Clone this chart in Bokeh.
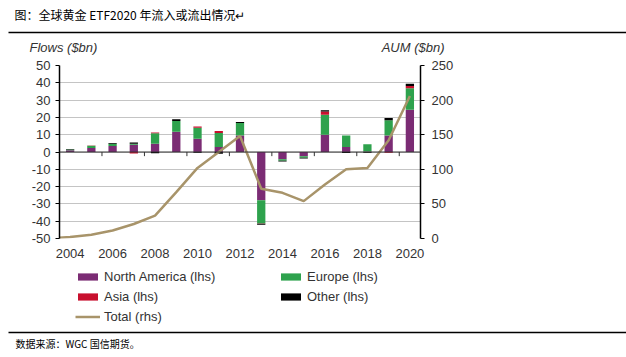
from bokeh.plotting import figure
from bokeh.models import (Range1d, LinearAxis, FixedTicker, Legend, LegendItem,
                          Label, Span, BoxAnnotation)
from bokeh.embed import file_html
from bokeh.resources import INLINE

# ---------------- data ----------------
years = [2004, 2005, 2006, 2007, 2008, 2009, 2010, 2011, 2012,
         2013, 2014, 2015, 2016, 2017, 2018, 2019, 2020]
north_america = [1.0, 2.3, 3.5, 4.2, 4.8, 11.7, 7.7, 2.9, 9.6,
                 -27.9, -4.2, -2.4, 10.0, 2.9, 0.3, 9.6, 24.4]
europe = [0.5, 1.3, 1.3, 0.6, 6.0, 6.2, 6.3, 8.1, 7.1,
          -13.4, -0.8, -0.9, 11.5, 6.7, 4.2, 8.8, 12.5]
asia = [0.0, 0.2, 0.0, -0.8, 0.5, 0.0, 0.8, 1.1, 0.0,
        -0.2, 0.0, 0.0, 1.9, 0.0, 0.0, -0.5, 1.3]
other = [0.2, 0.0, 0.4, 0.7, -0.7, 1.0, -0.5, -1.0, 0.6,
         -0.6, -0.5, -0.5, 0.7, -0.6, -0.5, 1.2, 1.3]

aum_years = [2003, 2004, 2005, 2006, 2007, 2008, 2009, 2010, 2011, 2012,
             2013, 2014, 2015, 2016, 2017, 2018, 2019, 2020]
total_aum = [0.0, 2.0, 5.5, 11.5, 21.0, 33.0, 67.0, 102.0, 125.0, 148.0,
             72.0, 66.0, 54.0, 78.0, 100.0, 102.0, 142.0, 206.0]

left_ticks = [-50, -40, -30, -20, -10, 0, 10, 20, 30, 40, 50]
right_ticks = [0, 50, 100, 150, 200, 250]
year_ticks = [2004, 2006, 2008, 2010, 2012, 2014, 2016, 2018, 2020]

series_names = ["North America (lhs)", "Europe (lhs)", "Asia (lhs)", "Other (lhs)"]
series_values = [north_america, europe, asia, other]
series_colors = ["#7B2C74", "#2EA24D", "#C8102E", "#000000"]
total_name = "Total (rhs)"
total_color = "#A8946A"

title_text = "图：全球黄金 ETF2020 年流入或流出情况↵"
left_title = "Flows ($bn)"
right_title = "AUM ($bn)"
source_text = "数据来源：WGC 国信期货。"

FONT = "Liberation Sans"
CJK = "Noto Sans CJK SC"
TXT = "#333333"
W = 626


def blank_fig(h):
    f = figure(width=W, height=h, output_backend="svg", toolbar_location=None,
               x_range=Range1d(0, W), y_range=Range1d(h, 0),
               x_axis_type=None, y_axis_type=None,
               min_border_left=0, min_border_right=0,
               min_border_top=0, min_border_bottom=0)
    f.outline_line_color = None
    f.grid.visible = False
    return f


def rule(f, y):
    f.add_layout(BoxAnnotation(left=8, right=W, top=y - 0.7, bottom=y + 0.7,
                               fill_color="black", fill_alpha=1, line_color=None))


# ---------------- top strip: title + axis titles ----------------
top = blank_fig(56)
top.add_layout(Label(x=14, y=14, text=title_text, text_font=CJK,
                     text_font_size="12px", text_color="black",
                     text_baseline="middle"))
rule(top, 32)
top.add_layout(Label(x=29, y=47, text=left_title, text_font=FONT,
                     text_font_size="13px", text_font_style="italic",
                     text_color=TXT, text_baseline="middle"))
top.add_layout(Label(x=444, y=47, text=right_title, text_font=FONT,
                     text_font_size="13px", text_font_style="italic",
                     text_color=TXT, text_baseline="middle", text_align="right"))

# ---------------- main chart ----------------
p = figure(width=W, height=210, output_backend="svg", toolbar_location=None,
           x_range=Range1d(2003.5, 2020.5), y_range=Range1d(-50, 50),
           min_border_left=59, min_border_right=206,
           min_border_top=9, min_border_bottom=28)
p.extra_y_ranges = {"aum": Range1d(0, 250)}
p.outline_line_color = None

p.xgrid.grid_line_color = None
p.ygrid.ticker = FixedTicker(ticks=left_ticks)
p.ygrid.grid_line_color = "#c4c4c4"
p.ygrid.grid_line_width = 1

xa = p.xaxis[0]
xa.ticker = FixedTicker(ticks=year_ticks)
xa.axis_line_color = None
xa.major_tick_line_color = None
xa.minor_tick_line_color = None
xa.major_tick_out = 0
xa.major_tick_in = 0
xa.major_label_standoff = 10
xa.major_label_text_font = FONT
xa.major_label_text_font_size = "13px"
xa.major_label_text_color = TXT

ya = p.yaxis[0]
ya.ticker = FixedTicker(ticks=left_ticks)
ya.major_label_overrides = {t: str(t) for t in left_ticks}
ya.axis_line_color = "black"
ya.axis_line_width = 1.5
ya.major_tick_line_color = "black"
ya.major_tick_out = 4
ya.major_tick_in = 0
ya.minor_tick_line_color = None
ya.major_label_standoff = 5
ya.major_label_text_font = FONT
ya.major_label_text_font_size = "13px"
ya.major_label_text_color = TXT

ra = LinearAxis(y_range_name="aum", ticker=FixedTicker(ticks=right_ticks))
ra.axis_line_color = "black"
ra.axis_line_width = 1.5
ra.major_tick_line_color = "black"
ra.major_tick_out = 4
ra.major_tick_in = 0
ra.minor_tick_line_color = None
ra.major_label_standoff = 7
ra.major_label_text_font = FONT
ra.major_label_text_font_size = "13px"
ra.major_label_text_color = TXT
p.add_layout(ra, "right")

# stacked bars: positives stack upward, negatives downward
n = len(years)
pos_base = [0.0] * n
neg_base = [0.0] * n
for vals, col in zip(series_values, series_colors):
    bottoms, tops = [], []
    for i, v in enumerate(vals):
        if v >= 0:
            bottoms.append(pos_base[i]); tops.append(pos_base[i] + v)
            pos_base[i] += v
        else:
            tops.append(neg_base[i]); bottoms.append(neg_base[i] + v)
            neg_base[i] += v
    p.vbar(x=years, bottom=bottoms, top=tops, width=0.39,
           fill_color=col, line_color=None)

# zero line with small ticks between year pairs
p.add_layout(Span(location=0, dimension="width", line_color="#333333", line_width=1))
tick_x = [y + 0.5 for y in years if y % 2 == 1]
p.segment(x0=tick_x, y0=[0] * len(tick_x), x1=tick_x, y1=[-2.4] * len(tick_x),
          line_color="#333333", line_width=1)

p.line(aum_years, total_aum, y_range_name="aum",
       line_color=total_color, line_width=2.5)

# ---------------- bottom strip: legend + source ----------------
# legend proxies: same series, drawn outside this strip's visible range
bot = blank_fig(91)
leg_renderers = [bot.vbar(x=years, top=vals, width=0.39, fill_color=c, line_color=None)
                 for vals, c in zip(series_values, series_colors)]
leg_renderers.append(bot.line(aum_years, total_aum, line_color=total_color, line_width=2.5))
items = [LegendItem(label=nm, renderers=[r])
         for nm, r in zip(series_names + [total_name], leg_renderers)]
legend = Legend(items=items, orientation="horizontal", ncols=2,
                location=(75, 31), glyph_width=25, glyph_height=9,
                label_standoff=4, label_width=174, label_height=20, spacing=0,
                padding=0, margin=0, border_line_color=None,
                background_fill_alpha=0,
                label_text_font=FONT, label_text_font_size="13px",
                label_text_color=TXT)
bot.add_layout(legend, "center")
rule(bot, 66)
bot.add_layout(Label(x=15, y=77, text=source_text, text_font=CJK,
                     text_font_size="10px", text_color="black",
                     text_baseline="middle"))

open("out.html", "w").write(file_html([top, p, bot], INLINE))
